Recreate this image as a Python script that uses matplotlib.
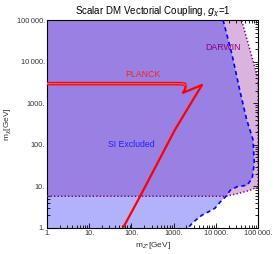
import matplotlib
matplotlib.use("Agg")
import matplotlib.pyplot as plt
import numpy as np
from matplotlib.patches import Polygon
from matplotlib.ticker import LogLocator, FixedLocator, NullFormatter

plt.rcParams['font.family'] = ['Liberation Sans', 'DejaVu Sans']

# ---- data ----
tick_values = [1, 10, 100, 1000, 10000, 100000]
tick_labels = ["1.", "10.", "100.", "1000.", "10\u2009000.", "100\u2009000."]

# SI excluded boundary (dashed blue), from top to bottom
si_mz = [14800, 24000, 37000, 53700, 75900, 81300, 72400, 55000, 31600, 21900,
         17400, 12600, 9550, 6600, 4700, 2900, 2200]
si_mchi = [100000, 15100, 2000, 400, 132, 36, 15.8, 10.7, 9.8, 8.1,
           5.8, 4.2, 3.0, 2.43, 2.04, 1.38, 1]

# DARWIN boundary (dotted purple)
dw_mz = [1, 17400, 37000, 64600, 100000, 100000, 40700]
dw_mchi = [5.8, 5.8, 6.9, 8.1, 9.8, 3800, 100000]

# PLANCK relic curve
pl_mz = [1, 1000, 1500, 1800, 1930, 1900, 1780, 1660, 4680, 1070, 158, 63]
pl_mchi = [2960, 2960, 2950, 2880, 2700, 2350, 2000, 1780, 2750, 229, 5.6, 1]
pl_flat_n = 5  # points of the flat (double-line) part

xmin, xmax, ymin, ymax = 1, 100000, 1, 100000

fig = plt.figure(figsize=(2.74, 2.54), dpi=100)
ax = fig.add_axes([0.1715, 0.1024, 0.7705, 0.8186])
ax.set_xscale('log')
ax.set_yscale('log')
ax.set_xlim(xmin, xmax)
ax.set_ylim(ymin, ymax)

light_blue = '#b2b2fc'
pink = '#dab4de'
purple = '#9a80e2'

# SI excluded polygon
si_poly = [(xmin, ymax)] + list(zip(si_mz, si_mchi)) + [(xmin, ymin)]
p_si = Polygon(si_poly, closed=True, facecolor=light_blue, edgecolor='none', zorder=1)
ax.add_patch(p_si)

# DARWIN polygon
dw_poly = list(zip(dw_mz, dw_mchi)) + [(xmin, ymax)]
p_dw = Polygon(dw_poly, closed=True, facecolor=pink, edgecolor='none', zorder=1)
ax.add_patch(p_dw)

# overlap
p_ov = Polygon(si_poly, closed=True, facecolor=purple, edgecolor='none', zorder=2)
ax.add_patch(p_ov)
p_clip = Polygon(dw_poly, closed=True, transform=ax.transData)
p_ov.set_clip_path(p_clip)

# boundaries
ax.plot(si_mz, si_mchi, color='#0000ff', lw=1.2, ls=(0, (2.5, 2)), zorder=4)
ax.plot(dw_mz, dw_mchi, color='#800080', lw=1.1, ls=(0, (0.9, 1.4)), zorder=4)

# PLANCK
ax.plot(pl_mz, pl_mchi, color='#ff0000', lw=1.6, zorder=5, solid_capstyle='butt')
ax.plot(pl_mz[:pl_flat_n], pl_mchi[:pl_flat_n], color='#ff0000', lw=2.5, zorder=5,
        solid_capstyle='butt')
ax.plot(pl_mz[:pl_flat_n], pl_mchi[:pl_flat_n], color='#ee6677', lw=0.8, zorder=6)

# labels
ax.text(190, 5000, 'PLANCK', color='#ff2020', fontsize=6.3, ha='center', va='center', zorder=7)
ax.text(14800, 21500, 'DARWIN', color='#880088', fontsize=6.3, ha='center', va='center', zorder=7)
ax.text(100, 100, 'SI Excluded', color='#2020ff', fontsize=6.3, ha='center', va='center', zorder=7)

# ticks
for axis in (ax.xaxis, ax.yaxis):
    axis.set_major_locator(FixedLocator(tick_values))
    axis.set_minor_locator(LogLocator(base=10, subs=np.arange(2, 10)))
    axis.set_minor_formatter(NullFormatter())
ax.set_xticklabels(tick_labels)
ax.set_yticklabels(tick_labels)
ax.tick_params(which='both', direction='in', top=True, right=True, labelsize=5.3,
               labelcolor='#333333', width=0.6, pad=1.5)
ax.tick_params(which='major', length=3.5)
ax.tick_params(which='minor', length=2)
for s in ax.spines.values():
    s.set_linewidth(0.8)

ax.set_xlabel("m$_{Z'}$[GeV]", fontsize=6, color='#333333', labelpad=2)
ax.set_ylabel("m$_{\\chi}$[GeV]", fontsize=6, color='#333333', labelpad=2)
ax.set_title("Scalar DM Vectorial Coupling, $g_\\chi$=1", fontsize=7, pad=4)

fig.savefig('out.png', dpi=100)
